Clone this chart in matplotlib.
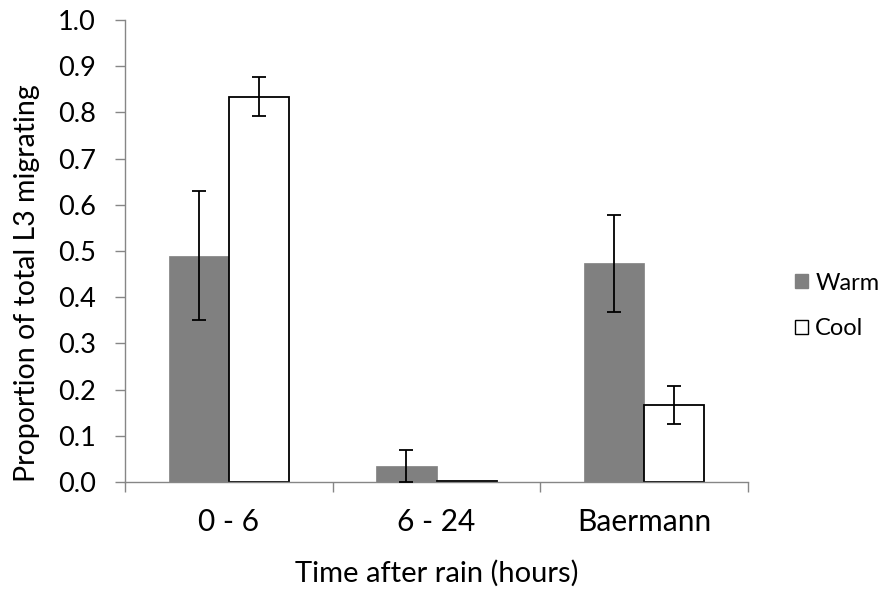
import numpy as np
import matplotlib
matplotlib.use("Agg")
import matplotlib.pyplot as plt
from matplotlib.patches import Patch

plt.rcParams['font.family'] = ['Lato', 'DejaVu Sans']

# data
groups = ['0 - 6', '6 - 24', 'Baermann']
warm = [0.490, 0.035, 0.473]
warm_err = [0.140, 0.035, 0.104]
cool = [0.834, 0.003, 0.167]
cool_err = [0.042, 0.0, 0.041]
yticks = np.arange(0, 1.01, 0.1)

axis_grey = '#868686'

fig = plt.figure(figsize=(8.82, 5.90), dpi=100)
ax = fig.add_axes([125 / 882, 1 - 482 / 590, 623 / 882, 462 / 590])

x = np.arange(len(groups))
w = 0.29

# --- bars ---
ax.bar(x - w / 2, warm, w, color='#808080', edgecolor='#808080', linewidth=0.5, zorder=2)
ax.bar(x + w / 2, cool, w, color='white', edgecolor='black', linewidth=1.3, zorder=2)

# --- error bars (skip zero ones) ---
ax.errorbar(x - w / 2, warm, yerr=warm_err, fmt='none', ecolor='black',
            elinewidth=1.3, capsize=5, capthick=1.3, zorder=3)
cx = [xi + w / 2 for xi, e in zip(x, cool_err) if e > 0]
cy = [v for v, e in zip(cool, cool_err) if e > 0]
ce = [e for e in cool_err if e > 0]
ax.errorbar(cx, cy, yerr=ce, fmt='none', ecolor='black',
            elinewidth=1.3, capsize=5, capthick=1.3, zorder=3)

# --- axes styling ---
ax.set_xlim(-0.5, len(groups) - 0.5)
ax.set_ylim(0, 1.0)
ax.set_yticks(yticks)
ax.set_yticklabels([f'{t:.1f}' for t in yticks])
ax.set_xticks(x)
ax.set_xticklabels(groups)
ax.set_xticks(np.arange(-0.5, len(groups), 1.0), minor=True)

for s in ['top', 'right']:
    ax.spines[s].set_visible(False)
for s in ['left', 'bottom']:
    ax.spines[s].set_color(axis_grey)
    ax.spines[s].set_linewidth(1.0)

ax.tick_params(axis='y', which='major', length=7, width=1.0, color=axis_grey,
               direction='out', labelsize=19.5, pad=14)
ax.tick_params(axis='x', which='major', length=0, labelsize=21.5, pad=19)
ax.tick_params(axis='x', which='minor', length=7, width=1.0, color=axis_grey,
               direction='out')

ax.set_xlabel('Time after rain (hours)', fontsize=21)
ax.xaxis.set_label_coords(0.5, -0.168)
ax.set_ylabel('Proportion of total L3 migrating', fontsize=20.5)
ax.yaxis.set_label_coords(-0.136, 0.43)

# --- legend ---
handles = [Patch(facecolor='#808080', edgecolor='#808080', label='Warm'),
           Patch(facecolor='white', edgecolor='black', linewidth=1.0, label='Cool')]
fig.legend(handles=handles, loc='center left', bbox_to_anchor=(795 / 882, 1 - 306 / 590),
           frameon=False, fontsize=17, handlelength=0.56, handleheight=0.56,
           handletextpad=0.3, labelspacing=1.05, borderpad=0, borderaxespad=0)

fig.savefig('out.png', dpi=100)
